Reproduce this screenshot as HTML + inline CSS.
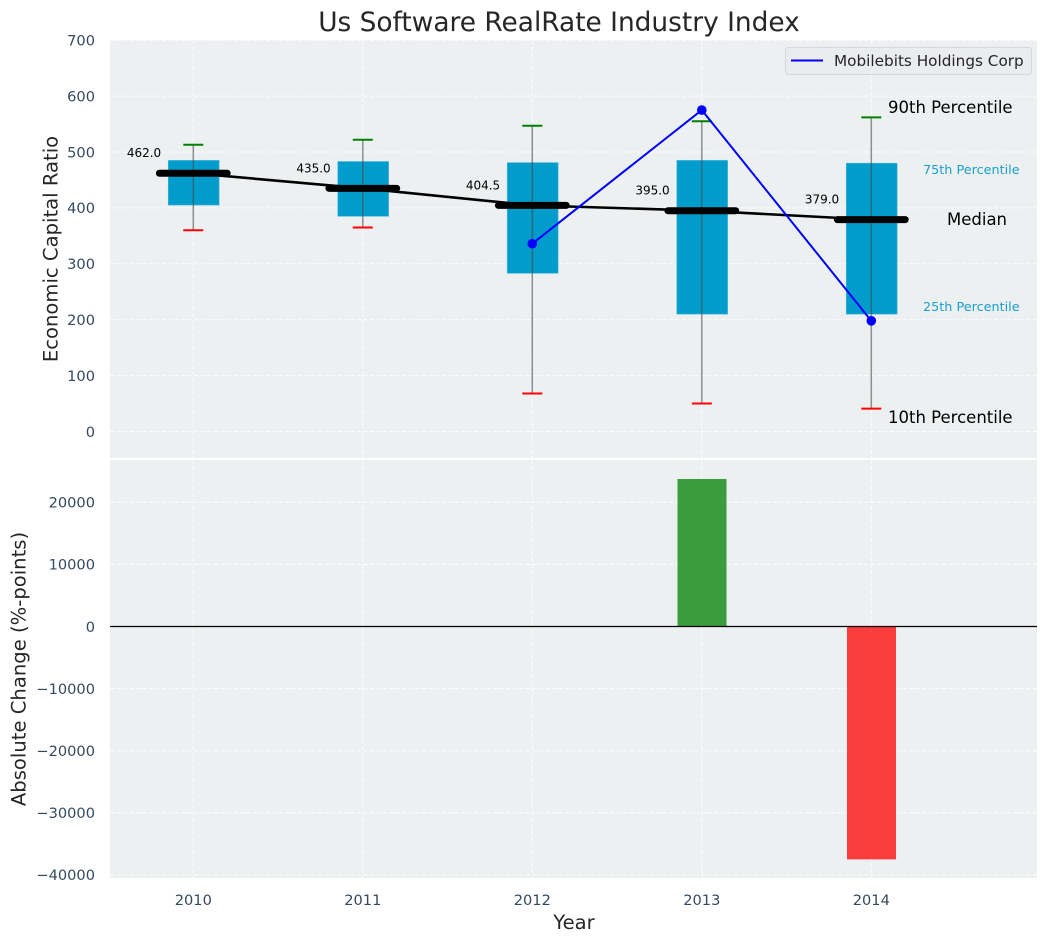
<!DOCTYPE html>
<html>
<head>
<meta charset="utf-8">
<title>Us Software RealRate Industry Index</title>
<style>
html,body{margin:0;padding:0;background:#fff;}
svg{display:block;font-family:"DejaVu Sans","Liberation Sans",sans-serif;}
</style>
</head>
<body>
<svg id="chart" width="1048" height="942" viewBox="0 0 1048 942" xmlns="http://www.w3.org/2000/svg"></svg>
<script>
const years = [2010, 2011, 2012, 2013, 2014];
const p10 = [360, 365, 68, 50, 41];
const p25 = [405, 385, 283, 210, 210];
const medians = [462, 435, 404.5, 395, 379];
const p75 = [485, 483, 481, 485, 480];
const p90 = [513, 522, 547, 555, 562];
const companyYears = [2012, 2013, 2014];
const companyValues = [336, 575, 198];
const changeYears = [2013, 2014];
const changeValues = [23750, -37500];
const topTicks = [0, 100, 200, 300, 400, 500, 600, 700];
const bottomTicks = [-40000, -30000, -20000, -10000, 0, 10000, 20000];

const L = 110, R = 1037;
const topPanel = {t: 40, b: 458};
const botPanel = {t: 460, b: 878};
const svg = document.getElementById('chart');
const NS = 'http://www.w3.org/2000/svg';

function x(v){ return 193.3 + (v - 2010) * 169.5; }
function yTop(v){ return 431.5 - v * 0.559; }
function yBot(v){ return 626.5 - v * 0.00621; }

function make(tag, attrs, text){
  const el = document.createElementNS(NS, tag);
  for (const k in attrs) el.setAttribute(k, attrs[k]);
  if (text !== undefined) el.textContent = text;
  svg.appendChild(el);
  return el;
}
let el;

el = make('rect', {x: L, y: topPanel.t, width: R - L, height: topPanel.b - topPanel.t, fill: '#ecf0f1'});


el = make('rect', {x: L, y: botPanel.t, width: R - L, height: botPanel.b - botPanel.t, fill: '#ecf0f1'});



const gridStyle = {stroke: '#ffffff', 'stroke-width': 1, 'stroke-dasharray': '4 2.5', opacity: 0.9};

topTicks.forEach(function(t){
  el = make('line', Object.assign({x1: L, x2: R, y1: yTop(t), y2: yTop(t)}, gridStyle));
  
  
  el = make('text', {x: 95, y: yTop(t) + 5.3, 'text-anchor': 'end', 'font-size': 14.6, fill: '#34495e'}, String(t));
  
  
});
bottomTicks.forEach(function(t){
  el = make('line', Object.assign({x1: L, x2: R, y1: yBot(t), y2: yBot(t)}, gridStyle));
  
  
  el = make('text', {x: 95, y: yBot(t) + 5.3, 'text-anchor': 'end', 'font-size': 14.6, fill: '#34495e'}, String(t).replace('-', '\u2212'));
  
  
});
years.forEach(function(yr){
  el = make('line', Object.assign({x1: x(yr), x2: x(yr), y1: topPanel.t, y2: topPanel.b}, gridStyle));
  
  
  el = make('line', Object.assign({x1: x(yr), x2: x(yr), y1: botPanel.t, y2: botPanel.b}, gridStyle));
  
  
  el = make('text', {x: x(yr), y: 905, 'text-anchor': 'middle', 'font-size': 14.6, fill: '#34495e'}, String(yr));
  
  
});

/* percentile boxes */
years.forEach(function(yr, i){
  const halfW = 0.15 * 169.5;
  el = make('rect', {x: x(yr) - halfW + 0.4, y: yTop(p75[i]), width: halfW * 2, height: yTop(p25[i]) - yTop(p75[i]), fill: '#009ccc', stroke: '#4db8dc', 'stroke-width': 0.6});
  
  
});

/* whiskers */
years.forEach(function(yr, i){
  el = make('line', {x1: x(yr), x2: x(yr), y1: yTop(p90[i]), y2: yTop(p10[i]), stroke: '#4a4a4a', 'stroke-opacity': 0.6, 'stroke-width': 1.5});
  
  
  el = make('line', {x1: x(yr) - 10, x2: x(yr) + 10, y1: yTop(p90[i]), y2: yTop(p90[i]), stroke: '#008000', 'stroke-width': 2});
  
  
  el = make('line', {x1: x(yr) - 10, x2: x(yr) + 10, y1: yTop(p10[i]), y2: yTop(p10[i]), stroke: '#ff0000', 'stroke-width': 2});
  
  
});

/* median trend */
el = make('polyline', {points: years.map(function(yr, i){ return x(yr) + ',' + yTop(medians[i]); }).join(' '), fill: 'none', stroke: '#000000', 'stroke-width': 2.6});



years.forEach(function(yr, i){
  el = make('line', {x1: x(yr) - 0.2 * 169.5, x2: x(yr) + 0.2 * 169.5, y1: yTop(medians[i]), y2: yTop(medians[i]), stroke: '#000000', 'stroke-width': 7, 'stroke-linecap': 'round'});
  
  
  el = make('text', {x: x(yr) - 49.3, y: yTop(medians[i]) - 16, 'text-anchor': 'middle', 'font-size': 12, fill: '#000000'}, medians[i].toFixed(1));
  
  
});

/* company line */
el = make('polyline', {points: companyYears.map(function(yr, i){ return x(yr) + ',' + yTop(companyValues[i]); }).join(' '), fill: 'none', stroke: '#0000ff', 'stroke-width': 2});


companyYears.forEach(function(yr, i){
  el = make('circle', {cx: x(yr), cy: yTop(companyValues[i]), r: 4.8, fill: '#0000ff'});
  
  
});

/* change bars */
changeYears.forEach(function(yr, i){
  const v = changeValues[i];
  const y0 = Math.min(yBot(0), yBot(v));
  const h = Math.abs(yBot(v) - yBot(0));
  el = make('rect', {x: x(yr) - 24.3, y: y0, width: 49, height: h, fill: v >= 0 ? '#008000' : '#ff0000', 'fill-opacity': 0.75});
  
  
});
el = make('line', {x1: L, x2: R, y1: yBot(0), y2: yBot(0), stroke: '#000000', 'stroke-width': 1.2});



/* percentile annotations */
el = make('text', {x: 888, y: 113, 'font-size': 16.5, fill: '#000000'}, '90th Percentile');


el = make('text', {x: 923, y: 174, 'font-size': 12.8, fill: '#1a9fcf'}, '75th Percentile');


el = make('text', {x: 947, y: 225, 'font-size': 16.5, fill: '#000000'}, 'Median');


el = make('text', {x: 923, y: 311, 'font-size': 12.8, fill: '#1a9fcf'}, '25th Percentile');


el = make('text', {x: 888, y: 423, 'font-size': 16.5, fill: '#000000'}, '10th Percentile');



/* legend */
el = make('rect', {x: 785.5, y: 47.5, width: 246, height: 27, rx: 3, fill: '#eaecf0', stroke: '#d5d7db', 'stroke-width': 1});


el = make('line', {x1: 791, x2: 823, y1: 60.5, y2: 60.5, stroke: '#0000ff', 'stroke-width': 2});


el = make('text', {x: 834, y: 66, 'font-size': 15.25, fill: '#262626'}, 'Mobilebits Holdings Corp');



/* titles */
el = make('text', {x: 559, y: 31, 'text-anchor': 'middle', 'font-size': 26.4, fill: '#262626'}, 'Us Software RealRate Industry Index');


el = make('text', {x: 574, y: 929, 'text-anchor': 'middle', 'font-size': 19.6, fill: '#262626'}, 'Year');


el = make('text', {x: 0, y: 0, transform: 'translate(57.5,249) rotate(-90)', 'text-anchor': 'middle', 'font-size': 19.6, fill: '#262626'}, 'Economic Capital Ratio');


el = make('text', {x: 0, y: 0, transform: 'translate(25.5,669) rotate(-90)', 'text-anchor': 'middle', 'font-size': 19.6, fill: '#262626'}, 'Absolute Change (%-points)');


</script>
</body>
</html>
